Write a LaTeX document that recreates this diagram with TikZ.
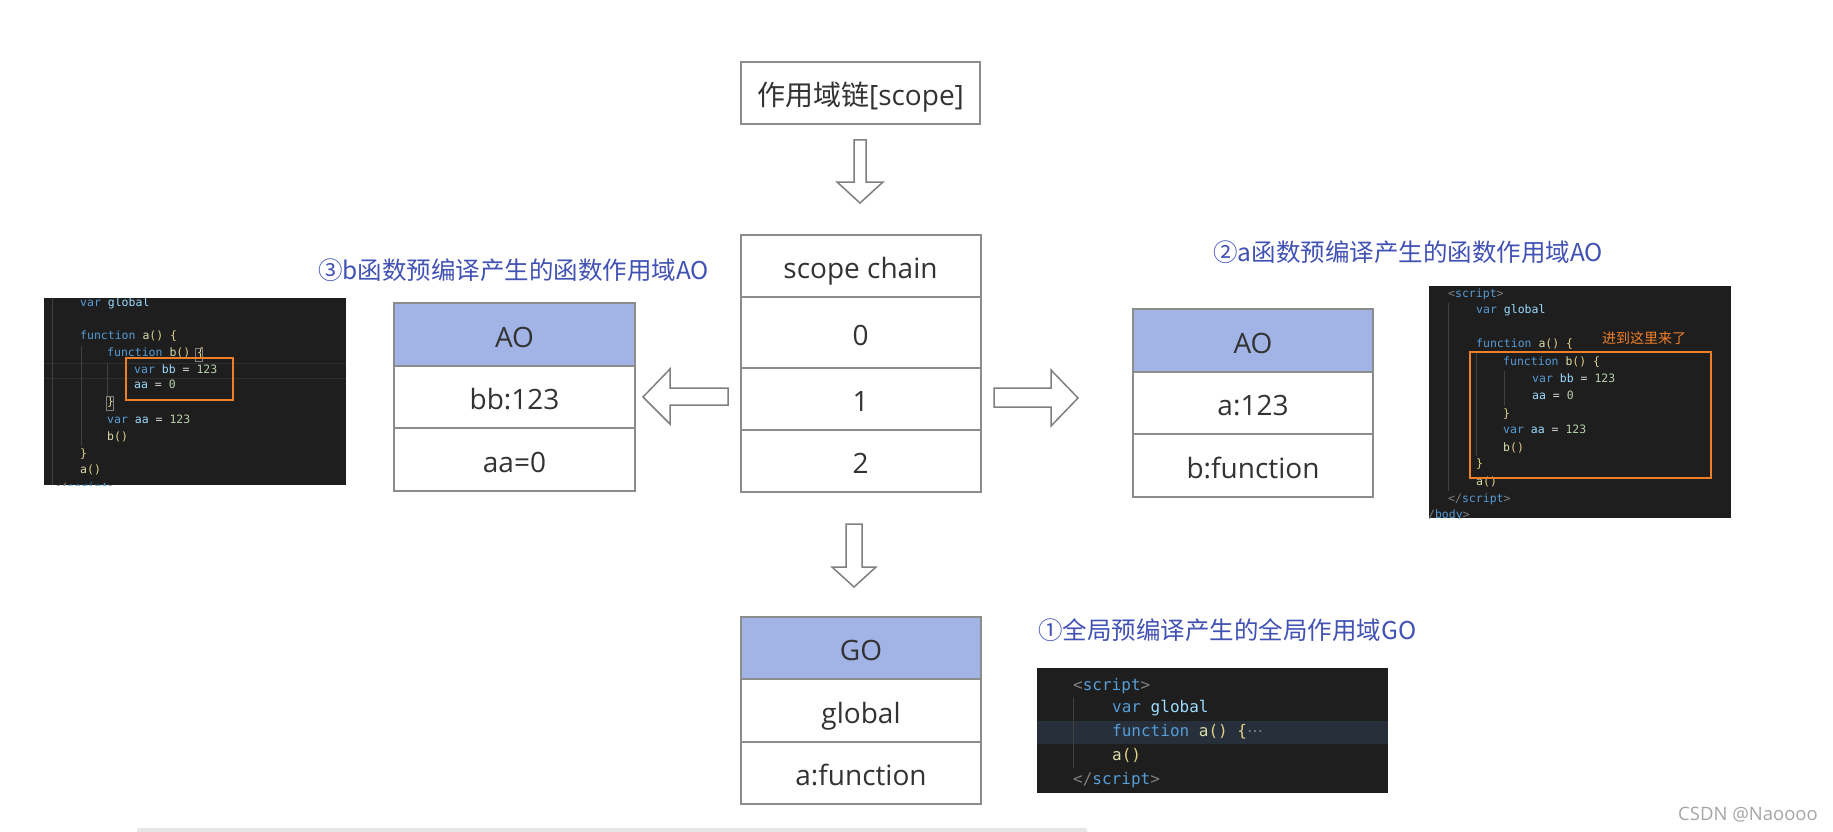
\documentclass[tikz,border=0pt]{standalone}
\usepackage{fontspec}
\setmainfont{Open Sans}
\newfontfamily\cjk{Noto Sans CJK SC}
\newfontfamily\codefont{DejaVu Sans Mono}
\newfontfamily\dejavu{DejaVu Sans}
\definecolor{boxgray}{HTML}{8C8C8C}
\definecolor{arrgray}{HTML}{7F7F7F}
\definecolor{txtdark}{HTML}{333333}
\definecolor{aoblue}{HTML}{A2B4E6}
\definecolor{lblblue}{HTML}{4152B4}
\definecolor{codebg}{HTML}{1E1E1E}
\definecolor{hlband}{HTML}{262F3A}
\definecolor{guide}{HTML}{404040}
\definecolor{ckw}{HTML}{569CD6}
\definecolor{cid}{HTML}{9CDCFE}
\definecolor{cfn}{HTML}{DCDCAA}
\definecolor{cnum}{HTML}{B5CEA8}
\definecolor{cpun}{HTML}{D4D4D4}
\definecolor{cbr}{HTML}{E2CF8A}
\definecolor{ctag}{HTML}{808080}
\definecolor{corange}{HTML}{F07F2A}
\definecolor{wmgray}{HTML}{A6A6A6}
\definecolor{bargray}{HTML}{E6E6E6}
\newcommand\tk[2]{\textcolor{#1}{#2}}
\tikzset{
  cell/.style={draw=boxgray, line width=2pt, fill=white, text=txtdark,
    font=\fontsize{28}{34}\selectfont, minimum width=240, inner sep=0,
    text height=25pt, text depth=0pt, anchor=center},
  headcell/.style={cell, fill=aoblue},
  blockarrow/.style={draw=arrgray, line width=1.5pt, fill=white, line join=miter},
  lbl/.style={font=\cjk\fontsize{24.5}{28}\selectfont, text=lblblue, inner sep=0, anchor=west},
  codeS/.style={font=\codefont\fontsize{11.5}{13}\selectfont, text=cpun, inner sep=0,
    anchor=west, text height=8pt, text depth=2.5pt},
  codeL/.style={font=\codefont\fontsize{16}{19}\selectfont, text=cpun, inner sep=0,
    anchor=west, text height=11.5pt, text depth=3.5pt},
  guideline/.style={draw=guide, line width=0.8pt},
  orangebox/.style={draw=corange, line width=1.4pt},
}
\begin{document}
\begin{tikzpicture}[x=1pt, y=-1pt]
\useasboundingbox (0,0) rectangle (1833,832);
\fill[white] (0,0) rectangle (1833,832);

% title box
\node[cell, minimum width=239, minimum height=62] (title) at (860.5,93) {{\cjk 作用域链}[scope]};

% scope chain
\node[cell, minimum height=62] (sc) at (860.5,266) {scope chain};
\node[cell, minimum height=71] (s0) at (860.5,332.5) {0};
\node[cell, minimum height=62] (s1) at (860.5,399) {1};
\node[cell, minimum height=62] (s2) at (860.5,461) {2};

% left AO
\node[headcell, minimum width=241, minimum height=63] (la) at (514.5,334.5) {AO};
\node[cell, minimum width=241, minimum height=62] (lb) at (514.5,397) {bb:123};
\node[cell, minimum width=241, minimum height=63] (lc) at (514.5,459.5) {aa=0};

% right AO
\node[headcell, minimum height=63] (ra) at (1253,340.5) {AO};
\node[cell, minimum height=62] (rb) at (1253,403) {a:123};
\node[cell, minimum height=63] (rc) at (1253,465.5) {b:function};

% GO
\node[headcell, minimum height=62] (ga) at (861,648) {GO};
\node[cell, minimum height=63] (gb) at (861,710.5) {global};
\node[cell, minimum height=62] (gc) at (861,773) {a:function};

% block arrows
\draw[blockarrow] (854,140) -- (866,140) -- (866,182) -- (883,182) -- (860,203) -- (837,182) -- (854,182) -- cycle;
\draw[blockarrow] (846,524) -- (862,524) -- (862,567) -- (876,567) -- (854,587) -- (832,567) -- (846,567) -- cycle;
\draw[blockarrow] (728,388) -- (728,405) -- (670,405) -- (670,424) -- (643,397) -- (670,369) -- (670,388) -- cycle;
\draw[blockarrow] (994,388) -- (1051,388) -- (1051,370) -- (1078,398) -- (1051,426) -- (1051,407) -- (994,407) -- cycle;

% labels
\node[lbl] (lblb) at (318,270) {③b函数预编译产生的函数作用域AO};
\node[lbl] (lbla) at (1213,252) {②a函数预编译产生的函数作用域AO};
\node[lbl] (lblg) at (1038,630) {①全局预编译产生的全局作用域GO};

% left code screenshot
\begin{scope}
\clip (44,298) rectangle (346,485);
\fill[codebg] (44,298) rectangle (346,485);
\draw[draw=black!82, line width=0.8pt] (44,363) -- (346,363) (44,378) -- (346,378);
\draw[guideline] (52,298) -- (52,485);
\draw[guideline] (81,346) -- (81,446);
\draw[guideline] (107,363) -- (107,398);
\node[codeS] (cl1) at (80,304) {\tk{ckw}{var} \tk{cid}{global}};
\node[codeS] (cl2) at (80,337) {\tk{ckw}{function} \tk{cfn}{a}\tk{cbr}{()} \tk{cbr}{\{}};
\node[codeS] (cl3) at (107,354) {\tk{ckw}{function} \tk{cfn}{b}\tk{cbr}{()} \tk{cbr}{\{}};
\node[codeS] (cl4) at (134,371) {\tk{ckw}{var} \tk{cid}{bb} = \tk{cnum}{123}};
\node[codeS] (cl5) at (134,386) {\tk{cid}{aa} = \tk{cnum}{0}};
\node[codeS] (cl6) at (107,403) {\tk{cbr}{\}}};
\node[codeS] (cl7) at (107,421) {\tk{ckw}{var} \tk{cid}{aa} = \tk{cnum}{123}};
\node[codeS] (cl8) at (107,438) {\tk{cfn}{b}\tk{cbr}{()}};
\node[codeS] (cl9) at (80,455) {\tk{cbr}{\}}};
\node[codeS] (cl10) at (80,471) {\tk{cfn}{a}\tk{cbr}{()}};
\node[codeS] (cl11) at (53,489) {\tk{ctag}{</}\tk{ckw}{script}\tk{ctag}{>}};
\draw[draw=gray, line width=0.7pt] (195,348) rectangle (202.5,361);
\draw[draw=gray, line width=0.7pt] (106.5,396) rectangle (113.5,410);
\draw[orangebox] (126,358) rectangle (233,400);
\end{scope}

% right code screenshot
\begin{scope}
\clip (1429,286) rectangle (1731,518);
\fill[codebg] (1429,286) rectangle (1731,518);
\draw[guideline] (1448,303) -- (1448,491);
\draw[guideline] (1476,353) -- (1476,456);
\draw[guideline] (1504,371) -- (1504,406);
\node[codeS] (cr1) at (1448,295) {\tk{ctag}{<}\tk{ckw}{script}\tk{ctag}{>}};
\node[codeS] (cr2) at (1476,311) {\tk{ckw}{var} \tk{cid}{global}};
\node[codeS] (cr3) at (1476,345) {\tk{ckw}{function} \tk{cfn}{a}\tk{cbr}{()} \tk{cbr}{\{}};
\node[codeS] (cr4) at (1503,363) {\tk{ckw}{function} \tk{cfn}{b}\tk{cbr}{()} \tk{cbr}{\{}};
\node[codeS] (cr5) at (1532,380) {\tk{ckw}{var} \tk{cid}{bb} = \tk{cnum}{123}};
\node[codeS] (cr6) at (1532,397) {\tk{cid}{aa} = \tk{cnum}{0}};
\node[codeS] (cr7) at (1503,415) {\tk{cbr}{\}}};
\node[codeS] (cr8) at (1503,431) {\tk{ckw}{var} \tk{cid}{aa} = \tk{cnum}{123}};
\node[codeS] (cr9) at (1503,449) {\tk{cfn}{b}\tk{cbr}{()}};
\node[codeS] (cr10) at (1476,465) {\tk{cbr}{\}}};
\node[codeS] (cr11) at (1476,483) {\tk{cfn}{a}\tk{cbr}{()}};
\node[codeS] (cr12) at (1448,500) {\tk{ctag}{</}\tk{ckw}{script}\tk{ctag}{>}};
\node[codeS] (cr13) at (1421,516) {\tk{ctag}{</}\tk{ckw}{body}\tk{ctag}{>}};
\draw[orangebox] (1470,352) rectangle (1711,478);
\node[font=\cjk\fontsize{14}{16}\selectfont, text=corange, inner sep=0] (crnote) at (1644,338) {进到这里来了};
\end{scope}

% bottom code screenshot
\begin{scope}
\clip (1037,668) rectangle (1388,793);
\fill[codebg] (1037,668) rectangle (1388,793);
\fill[hlband] (1037,721) rectangle (1388,744);
\draw[guideline] (1073,697) -- (1073,768);
\node[codeL] (cb1) at (1073,686) {\tk{ctag}{<}\tk{ckw}{script}\tk{ctag}{>}};
\node[codeL] (cb2) at (1112,708) {\tk{ckw}{var} \tk{cid}{global}};
\node[codeL] (cb3) at (1112,732) {\tk{ckw}{function} \tk{cfn}{a}\tk{cbr}{()} \tk{cbr}{\{}\tk{ctag}{\dejavu ⋯}};
\node[codeL] (cb4) at (1112,756) {\tk{cfn}{a}\tk{cbr}{()}};
\node[codeL] (cb5) at (1073,780) {\tk{ctag}{</}\tk{ckw}{script}\tk{ctag}{>}};
\end{scope}

% watermark and bottom bar
\node[font=\fontsize{18.5}{22}\selectfont, text=wmgray, inner sep=0, anchor=east] (wm) at (1818,815) {CSDN @Naoooo};
\fill[bargray, rounded corners=2pt] (137,828) rectangle (1087,838);
\end{tikzpicture}
\end{document}
